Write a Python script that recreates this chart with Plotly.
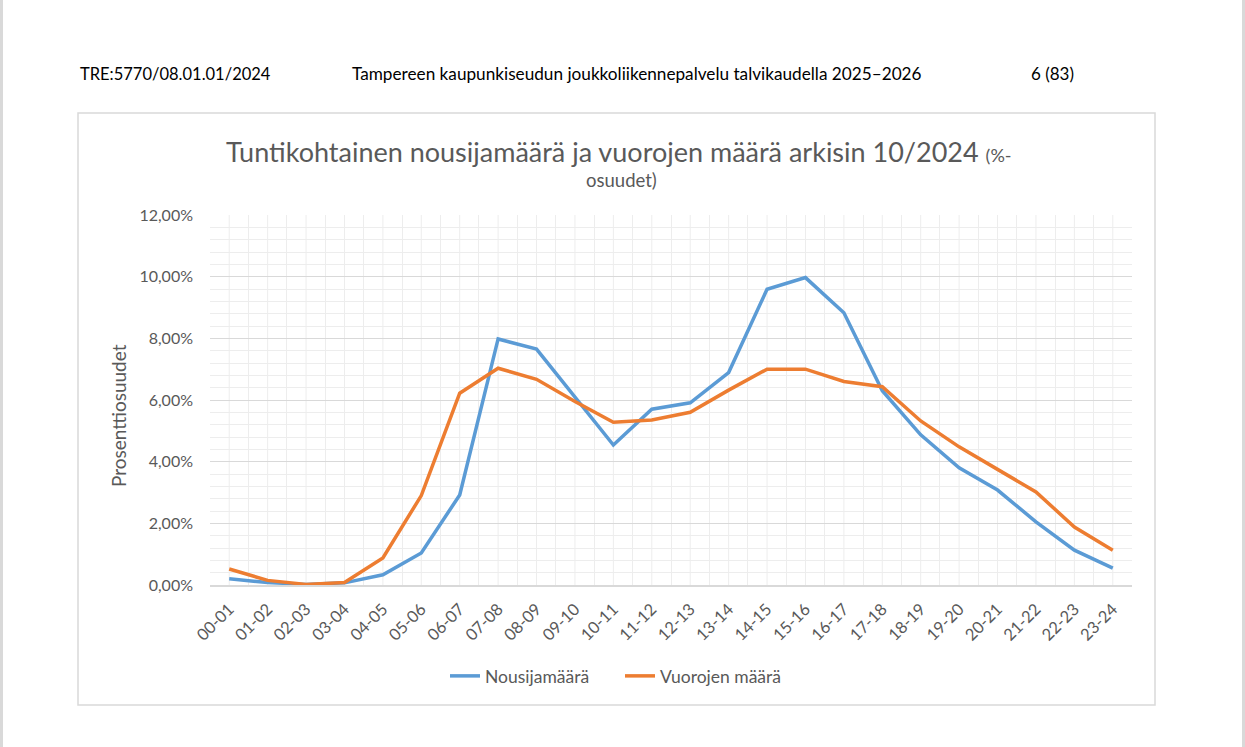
import plotly.graph_objects as go

hours = ["00-01", "01-02", "02-03", "03-04", "04-05", "05-06", "06-07", "07-08",
         "08-09", "09-10", "10-11", "11-12", "12-13", "13-14", "14-15", "15-16",
         "16-17", "17-18", "18-19", "19-20", "20-21", "21-22", "22-23", "23-24"]
nousijamaara = [0.20, 0.08, 0.02, 0.07, 0.33, 1.04, 2.92, 7.98, 7.65, 6.10, 4.54, 5.70,
                5.91, 6.89, 9.59, 9.97, 8.83, 6.30, 4.87, 3.80, 3.08, 2.05, 1.13, 0.55]
vuorojen_maara = [0.52, 0.15, 0.02, 0.08, 0.88, 2.90, 6.22, 7.03, 6.67, 5.95, 5.28, 5.35,
                  5.60, 6.32, 7.00, 7.00, 6.60, 6.43, 5.32, 4.48, 3.75, 3.02, 1.88, 1.13]
y_ticks = [0, 2, 4, 6, 8, 10, 12]
y_tick_text = ["0,00%", "2,00%", "4,00%", "6,00%", "8,00%", "10,00%", "12,00%"]

W, H = 1245, 747
L, R, T, B = 210, 1132, 215, 585
FONT = "Lato"
GREY = "#595959"


def px(x):
    return (x - L) / (R - L)


def py(y):
    return (B - y) / (B - T)


fig = go.Figure()
fig.add_trace(go.Scatter(x=hours, y=nousijamaara, mode="lines", name="Nousijamäärä",
                         line=dict(color="#5B9BD5", width=3.5)))
fig.add_trace(go.Scatter(x=hours, y=vuorojen_maara, mode="lines", name="Vuorojen määrä",
                         line=dict(color="#ED7D31", width=3.5)))

shapes = []
# page gutters and chart frame
shapes.append(dict(type="rect", xref="paper", yref="paper", x0=px(0), x1=px(3), y0=py(H), y1=py(0),
                   line=dict(width=0), fillcolor="#D9D9D9", layer="below"))
shapes.append(dict(type="rect", xref="paper", yref="paper", x0=px(1242), x1=px(W), y0=py(H), y1=py(0),
                   line=dict(width=0), fillcolor="#D9D9D9", layer="below"))
shapes.append(dict(type="rect", xref="paper", yref="paper", x0=px(78), x1=px(1155), y0=py(705), y1=py(113),
                   line=dict(width=1.5, color="#D9D9D9"), fillcolor="rgba(0,0,0,0)", layer="below"))
# category-centre vertical grid lines
for h in hours:
    shapes.append(dict(type="line", xref="x", yref="paper", x0=h, x1=h, y0=0, y1=1,
                       line=dict(color="#EDEDED", width=1), layer="below"))

annotations = [
    dict(text="TRE:5770/08.01.01/2024", x=px(78), y=py(74), xanchor="left", yanchor="middle",
         font=dict(size=16.5, color="#000000", family=FONT)),
    dict(text="Tampereen kaupunkiseudun joukkoliikennepalvelu talvikaudella 2025–2026", x=px(350), y=py(74),
         xanchor="left", yanchor="middle", font=dict(size=17.2, color="#000000", family=FONT)),
    dict(text="6 (83)", x=px(1029), y=py(74), xanchor="left", yanchor="middle",
         font=dict(size=17, color="#000000", family=FONT)),
    dict(text="Tuntikohtainen nousijamäärä ja vuorojen määrä arkisin 10/2024 <span style='font-size:18px'>(%-</span>",
         x=px(619), y=py(151), xanchor="center", yanchor="middle",
         font=dict(size=27, color=GREY, family=FONT)),
    dict(text="osuudet)", x=px(621), y=py(180), xanchor="center", yanchor="middle",
         font=dict(size=18.5, color=GREY, family=FONT)),
    dict(text="Prosenttiosuudet", x=px(118), y=py(416), xanchor="center", yanchor="middle",
         textangle=-90, font=dict(size=19, color=GREY, family=FONT)),
]
for a in annotations:
    a.update(xref="paper", yref="paper", showarrow=False)

fig.update_layout(
    width=W, height=H,
    margin=dict(l=L, r=W - R, t=T, b=H - B, pad=0),
    paper_bgcolor="white", plot_bgcolor="white",
    font=dict(family=FONT, color=GREY, size=16),
    shapes=shapes, annotations=annotations,
    showlegend=True,
    legend=dict(orientation="h", x=px(620), y=py(676), xanchor="center", yanchor="middle",
                entrywidth=130, entrywidthmode="pixels",
                font=dict(size=17.5, color=GREY, family=FONT), bgcolor="rgba(0,0,0,0)"),
    xaxis=dict(type="category", range=[-0.5, len(hours) - 0.5], tickson="boundaries",
               showgrid=True, gridcolor="#EDEDED",
               ticks="", tickangle=-45, showline=True, linecolor="#D9D9D9", linewidth=2,
               tickfont=dict(size=16.5, color=GREY), ticklabelstandoff=6, fixedrange=True),
    yaxis=dict(range=[0, 12], tickvals=y_ticks, ticktext=y_tick_text,
               showgrid=True, gridcolor="#D9D9D9", gridwidth=1.3, zeroline=False, ticks="",
               minor=dict(dtick=0.4, tick0=0, showgrid=True, gridcolor="#EDEDED", gridwidth=1),
               tickfont=dict(size=16, color=GREY), ticklabelstandoff=16, fixedrange=True),
)

fig.write_html("out.html")
